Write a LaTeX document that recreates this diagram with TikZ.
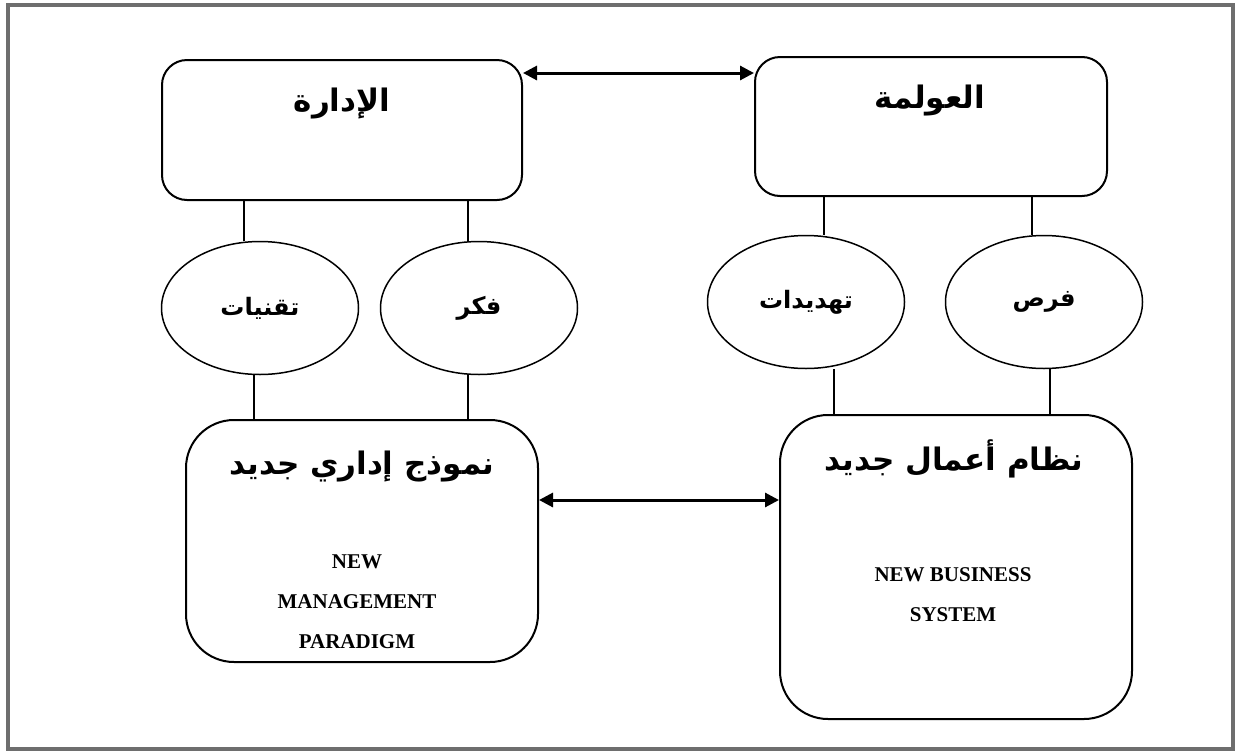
\documentclass[tikz,border=0pt]{standalone}
\usepackage{fontspec}
\setmainfont{Liberation Serif}
\newfontfamily\arabicfont[Script=Arabic]{DejaVu Sans}
\TeXXeTstate=1
\usetikzlibrary{shapes.geometric,arrows.meta}
\begin{document}
\begin{tikzpicture}[x=1pt,y=-1pt,
  frame/.style={draw=black!57,line width=3.5pt},
  bigbox/.style={draw,line width=2pt,rounded corners=25pt},
  tallbox/.style={draw,line width=2pt,rounded corners=48pt},
  oval/.style={draw,line width=1.5pt,ellipse,minimum width=197pt,minimum height=133pt,inner sep=0pt,
    font=\arabicfont\bfseries\fontsize{24}{30}\selectfont},
  link/.style={line width=1.5pt},
  twoway/.style={line width=3pt,{Triangle[length=14pt,width=14pt]}-{Triangle[length=14pt,width=14pt]}},
  artitle/.style={font=\arabicfont\bfseries\fontsize{31}{36}\selectfont},
  entext/.style={font=\bfseries\fontsize{21}{40}\selectfont,align=center}]
\useasboundingbox (0,0) rectangle (1237,753);
\draw[frame] (8,5) rectangle (1233,749);
% upper boxes
\node[bigbox,minimum width=360pt,minimum height=140pt] (idara) at (342,130) {};
\node[bigbox,minimum width=352pt,minimum height=139pt] (awlama) at (931,126.5) {};
\node[artitle] (idaraT) at (342,104) {\beginR الإدارة\endR};
\node[artitle] (awlamaT) at (930,101) {\beginR العولمة\endR};
% ovals
\node[oval] (tech) at (260,308) {\beginR تقنيات\endR};
\node[oval] (fikr) at (479,308) {\beginR فكر\endR};
\node[oval] (threat) at (806,302) {\beginR تهديدات\endR};
\node[oval] (furas) at (1044,302) {\beginR فرص\endR};
% lower boxes
\node[tallbox,minimum width=352pt,minimum height=242pt] (model) at (362,541) {};
\node[tallbox,minimum width=352pt,minimum height=304pt] (system) at (956,567) {};
\node[artitle] (modelT) at (362,466) {\beginR نموذج إداري جديد\endR};
\node[artitle] (systemT) at (954,459) {\beginR نظام أعمال جديد\endR};
\node[entext] (modelE) at (357,602) {NEW\\MANAGEMENT\\PARADIGM};
\node[entext] (systemE) at (953,595) {NEW BUSINESS\\SYSTEM};
% connectors
\draw[link] (244,200) -- (tech.north -| 244,0);
\draw[link] (468,200) -- (fikr.north -| 468,0);
\draw[link] (824,196) -- (threat.north -| 824,0);
\draw[link] (1032,196) -- (furas.north -| 1032,0);
\draw[link] (tech.south -| 254,0) -- (254,420);
\draw[link] (fikr.south -| 468,0) -- (468,420);
\draw[link] (threat.south -| 834,0) -- (834,415);
\draw[link] (furas.south -| 1050,0) -- (1050,415);
\draw[twoway] (idara.east |- 0,73) -- (awlama.west |- 0,73);
\draw[twoway] (model.east |- 0,500) -- (system.west |- 0,500);
\end{tikzpicture}
\end{document}
